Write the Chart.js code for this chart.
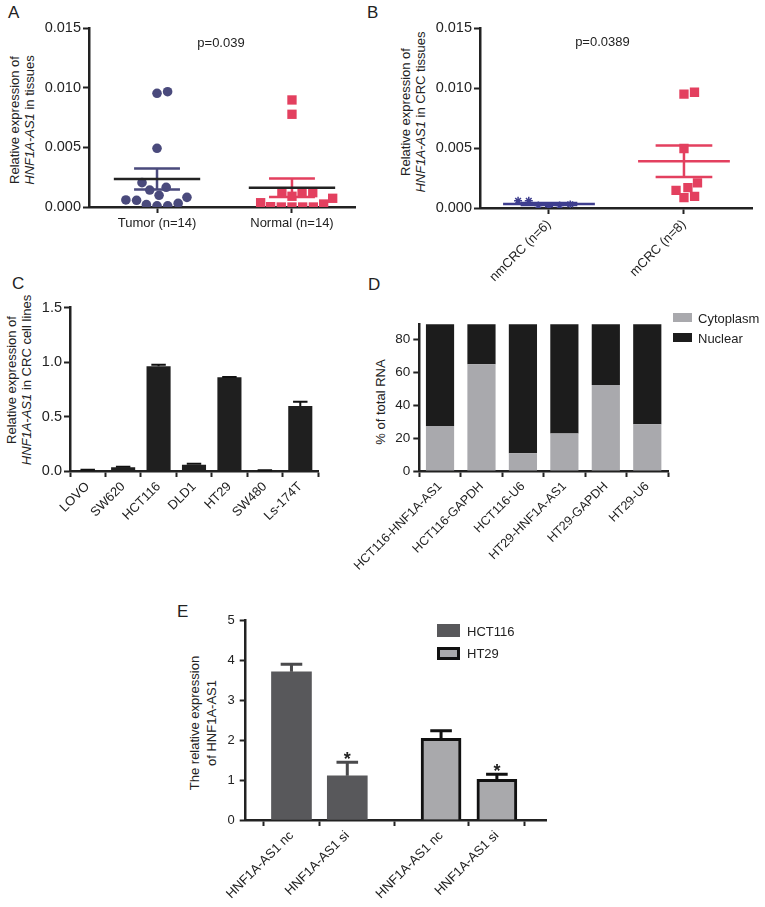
<!DOCTYPE html>
<html>
<head>
<meta charset="utf-8">
<script src="https://cdn.jsdelivr.net/npm/chart.js@4.4.0/dist/chart.umd.min.js"></script>
<style>
  body { margin: 0; background: #fff; width: 765px; height: 907px; position: relative; overflow: hidden;
         font-family: "Liberation Sans", Arial, Helvetica, sans-serif; color: #222; }
  canvas { position: absolute; }
  .letter { position: absolute; font-size: 17px; line-height: 17px; }
  .yt { position: absolute; font-size: 13px; line-height: 15px; text-align: center; white-space: nowrap;
        transform: translate(-50%, -50%) rotate(-90deg); }
  .sw { position: absolute; box-sizing: border-box; }
  .lg { position: absolute; font-size: 13px; line-height: 15px; transform: translateY(-50%); white-space: nowrap; }
</style>
</head>
<body>
<div class="letter" style="left:8px;top:4px">A</div>
<div class="letter" style="left:367px;top:4px">B</div>
<div class="letter" style="left:12px;top:275px">C</div>
<div class="letter" style="left:368px;top:276px">D</div>
<div class="letter" style="left:177px;top:603px">E</div>

<div class="yt" style="left:22px;top:120px">Relative expression of<br><i>HNF1A-AS1</i> in tissues</div>
<div class="yt" style="left:413px;top:112px">Relative expression of<br><i>HNF1A-AS1</i> in CRC tissues</div>
<div class="yt" style="left:19px;top:380px">Relative expression of<br><i>HNF1A-AS1</i> in CRC cell lines</div>
<div class="yt" style="left:380px;top:402px">% of total RNA</div>
<div class="yt" style="left:203px;top:723px;line-height:17px">The relative expression<br>of HNF1A-AS1</div>

<canvas id="cA" width="380" height="260" style="left:0;top:0"></canvas>
<canvas id="cB" width="385" height="300" style="left:380px;top:0"></canvas>
<canvas id="cC" width="380" height="290" style="left:0;top:260px"></canvas>
<canvas id="cD" width="455" height="330" style="left:310px;top:260px"></canvas>
<canvas id="cE" width="440" height="347" style="left:150px;top:560px"></canvas>

<!-- legend D -->
<div class="sw" style="left:673px;top:313px;width:19px;height:9px;background:#a9a9ad"></div>
<div class="lg" style="left:698px;top:318px">Cytoplasm</div>
<div class="sw" style="left:673px;top:333px;width:19px;height:9px;background:#1c1c1c"></div>
<div class="lg" style="left:698px;top:338px">Nuclear</div>
<!-- legend E -->
<div class="sw" style="left:437px;top:624px;width:23px;height:13px;background:#58585b"></div>
<div class="lg" style="left:467px;top:631px">HCT116</div>
<div class="sw" style="left:437px;top:647px;width:23px;height:13px;background:#a9a9ac;border:3px solid #111"></div>
<div class="lg" style="left:467px;top:653px">HT29</div>

<script>
// ---------- data ----------
const groupsA = ['Tumor (n=14)', 'Normal (n=14)'];
const tumorVals = [0.00966, 0.00953, 0.00492, 0.00165, 0.00204, 0.00142, 0.00098,
                   0.00081, 0.00056, 0.00059, 0.0001, 0.0001, 0.0002, 0.0003];
const normalVals = [0.00897, 0.00777, 0.0012, 0.0012, 0.0012, 0.00073, 0.0009,
                    0.00036, 0.00003, 0, 0, 0, 0, 0.00025];
const groupsB = ['nmCRC (n=6)', 'mCRC (n=8)'];
const nmcrcVals = [0.0006, 0.0003, 0.0002, 0.0001, 0.0002, 0.0006];
const mcrcVals = [0.00966, 0.0095, 0.00497, 0.0021, 0.00147, 0.0017, 0.00087, 0.00097];
const ticksAB = [0, 0.005, 0.010, 0.015];

const cellLines = ['LOVO', 'SW620', 'HCT116', 'DLD1', 'HT29', 'SW480', 'Ls-174T'];
const cellExpr = [0.01, 0.035, 0.963, 0.058, 0.86, 0.006, 0.596];
const cellErr = [0.002, 0.003, 0.012, 0.008, 0.003, 0.002, 0.04];

const fracLabels = ['HCT116-HNF1A-AS1', 'HCT116-GAPDH', 'HCT116-U6', 'HT29-HNF1A-AS1', 'HT29-GAPDH', 'HT29-U6'];
const cytoplasm = [27.3, 64.8, 10.7, 22.8, 52.1, 28.3];
const nuclear = [72.7, 35.2, 89.3, 77.2, 47.9, 71.7];

const siLabels = ['HNF1A-AS1 nc', 'HNF1A-AS1 si', 'HNF1A-AS1 nc', 'HNF1A-AS1 si'];
const hct116Expr = [3.72, 1.11];
const hct116Err = [0.19, 0.34];
const ht29Expr = [2.05, 1.02];
const ht29Err = [0.19, 0.13];
const siMarks = ['', '*'];

// ---------- look ----------
const INK = '#222';
const NAVY = '#4a4a7c';
const BLUE = '#3e3e8e';
const PINK = '#e3405f';
const ePos = [0, 1, 2.68, 3.68];   // bar slots on panel E's x axis

Chart.defaults.font.family = '"Liberation Sans", Arial, Helvetica, sans-serif';
Chart.defaults.font.size = 13;
Chart.defaults.color = INK;
Chart.defaults.animation = false;
Chart.defaults.responsive = false;
Chart.defaults.plugins.legend.display = false;
Chart.defaults.plugins.tooltip.enabled = false;

function axis(o) {
  return Object.assign({
    border: { display: true, color: INK, width: 2.5 },
    grid: { drawOnChartArea: false, drawTicks: true, tickLength: 6, tickColor: INK, tickWidth: 2 }
  }, o);
}
const rot45 = s => { s.labelRotation = 45; };

// spreads the points of a column sideways so they don't overlap (dot plot)
const swarm = {
  id: 'swarm',
  afterDatasetsUpdate(chart, args, o) {
    const d = o.gap;
    chart.data.datasets.forEach((ds, i) => {
      const pts = chart.getDatasetMeta(i).data.map(el => ({ el, y: el.y, cx: el.x }))
        .sort((a, b) => b.y - a.y);
      const placed = [];
      pts.forEach(p => {
        const cands = [p.cx];
        placed.forEach(q => {
          const dy = Math.abs(q.y - p.y);
          if (dy < d) {
            const dx = Math.sqrt(d * d - dy * dy);
            cands.push(q.x + dx, q.x - dx);
          }
        });
        cands.sort((a, b) => Math.abs(a - p.cx) - Math.abs(b - p.cx));
        const x = cands.find(c => placed.every(q => Math.hypot(q.x - c, q.y - p.y) >= d - 0.01));
        p.x = x;
        p.el.x = x;
        placed.push(p);
      });
    });
  }
};

// mean line with SEM whiskers
const meanSem = {
  id: 'meanSem',
  afterDatasetsDraw(chart, args, o) {
    const { ctx, scales: { x, y } } = chart;
    chart.data.datasets.forEach(ds => {
      const vals = ds.data.map(p => p.y);
      const n = vals.length;
      const m = vals.reduce((s, v) => s + v, 0) / n;
      const sd = Math.sqrt(vals.reduce((s, v) => s + (v - m) ** 2, 0) / (n - 1));
      const se = sd / Math.sqrt(n);
      const c = ds.data[0].x;
      const yt = y.getPixelForValue(m + se), yb = y.getPixelForValue(m - se), ym = y.getPixelForValue(m);
      ctx.save();
      ctx.lineWidth = o.lineWidth;
      ctx.strokeStyle = ds.semColor;
      ctx.beginPath();
      ctx.moveTo(x.getPixelForValue(c), yt);
      ctx.lineTo(x.getPixelForValue(c), yb);
      [yt, yb].forEach(yy => {
        ctx.moveTo(x.getPixelForValue(c - o.cap), yy);
        ctx.lineTo(x.getPixelForValue(c + o.cap), yy);
      });
      ctx.stroke();
      ctx.strokeStyle = ds.meanColor;
      ctx.beginPath();
      ctx.moveTo(x.getPixelForValue(c - o.half), ym);
      ctx.lineTo(x.getPixelForValue(c + o.half), ym);
      ctx.stroke();
      ctx.restore();
    });
  }
};

// upper error bars (and significance marks) on bars
const errBars = {
  id: 'errBars',
  afterDatasetsDraw(chart, args, o) {
    const { ctx } = chart;
    const y = chart.scales.y;
    chart.data.datasets.forEach((ds, i) => {
      if (!ds.errors) return;
      const meta = chart.getDatasetMeta(i);
      meta.data.forEach((bar, j) => {
        const v = meta.controller.getParsed(j).y;
        const top = y.getPixelForValue(v + ds.errors[j]);
        const hw = bar.width * o.cap / 2;
        ctx.save();
        ctx.strokeStyle = ds.errColor;
        ctx.lineWidth = o.width;
        ctx.beginPath();
        ctx.moveTo(bar.x, bar.y);
        ctx.lineTo(bar.x, top);
        ctx.moveTo(bar.x - hw, top);
        ctx.lineTo(bar.x + hw, top);
        ctx.stroke();
        if (ds.marks && ds.marks[j]) {
          ctx.fillStyle = INK;
          ctx.font = 'bold 18px "Liberation Sans", Arial, sans-serif';
          ctx.textAlign = 'center';
          ctx.textBaseline = 'alphabetic';
          ctx.fillText(ds.marks[j], bar.x, top + 3);
        }
        ctx.restore();
      });
    });
  }
};

// text placed in data space
const note = {
  id: 'note',
  afterDatasetsDraw(chart, args, o) {
    const { ctx, scales: { x, y } } = chart;
    ctx.save();
    ctx.fillStyle = INK;
    ctx.font = '13px "Liberation Sans", Arial, sans-serif';
    ctx.textAlign = 'center';
    ctx.textBaseline = 'middle';
    ctx.fillText(o.text, x.getPixelForValue(o.x), y.getPixelForValue(o.y));
    ctx.restore();
  }
};

function dotPlot(id, groups, sets, pad, yW, xH, xMin, xMax, rotated, ann, semOpts) {
  return new Chart(document.getElementById(id), {
    type: 'scatter',
    data: { datasets: sets },
    options: {
      layout: { padding: { top: pad.top, right: pad.right, left: 0, bottom: 0 } },
      scales: {
        x: axis({
          type: 'linear', min: xMin, max: xMax,
          afterBuildTicks: s => { s.ticks = [{ value: 0 }, { value: 1 }]; },
          afterCalculateLabelRotation: s => { s.labelRotation = rotated ? 45 : 0; },
          ticks: { callback: (v, i) => groups[i], padding: 3, font: { size: 13 } },
          afterFit: s => { s.height = xH; }
        }),
        y: axis({
          min: 0, max: 0.015,
          afterBuildTicks: s => { s.ticks = ticksAB.map(v => ({ value: v })); },
          ticks: { callback: v => v.toFixed(3), padding: 2, font: { size: 14.5 } },
          afterFit: s => { s.width = yW; }
        })
      },
      plugins: { swarm: { gap: 10.7 }, meanSem: semOpts, note: ann }
    },
    plugins: [swarm, meanSem, note]
  });
}

// A
dotPlot('cA', groupsA, [
  { data: tumorVals.map(v => ({ x: 0, y: v })), pointStyle: 'circle', pointRadius: 4.8,
    backgroundColor: NAVY, borderWidth: 0, semColor: NAVY, meanColor: INK },
  { data: normalVals.map(v => ({ x: 1, y: v })), pointStyle: 'rect', pointRadius: 6.6,
    backgroundColor: PINK, borderWidth: 0, semColor: PINK, meanColor: INK }
], { top: 28, right: 25 }, 89, 53, -0.504, 1.467, false,
  { text: 'p=0.039', x: 0.474, y: 0.01374 }, { half: 0.32, cap: 0.17, lineWidth: 2.5 });

// B
dotPlot('cB', groupsB, [
  { data: nmcrcVals.map(v => ({ x: 0, y: v })), pointStyle: 'star', pointRadius: 4,
    backgroundColor: BLUE, borderColor: BLUE, borderWidth: 1.5, semColor: BLUE, meanColor: BLUE },
  { data: mcrcVals.map(v => ({ x: 1, y: v })), pointStyle: 'rect', pointRadius: 6.6,
    backgroundColor: PINK, borderWidth: 0, semColor: PINK, meanColor: PINK }
], { top: 28.3, right: 13 }, 100, 92, -0.511, 1.504, true,
  { text: 'p=0.0389', x: 0.396, y: 0.0138 }, { half: 0.34, cap: 0.21, lineWidth: 2.5 });

// C
new Chart(document.getElementById('cC'), {
  type: 'bar',
  data: {
    labels: cellLines,
    datasets: [{ data: cellExpr, errors: cellErr, errColor: '#111', backgroundColor: '#1f1f1f',
                 categoryPercentage: 1, barPercentage: 0.68 }]
  },
  options: {
    layout: { padding: { top: 47.7, right: 62, left: 0, bottom: 0 } },
    scales: {
      x: axis({
        ticks: { autoSkip: false, padding: 2, font: { size: 13 } },
        afterCalculateLabelRotation: rot45,
        afterFit: s => { s.height = 79; }
      }),
      y: axis({
        min: 0, max: 1.5,
        ticks: { stepSize: 0.5, callback: v => v.toFixed(1), padding: 2, font: { size: 14.5 } },
        afterFit: s => { s.width = 70; }
      })
    },
    plugins: { errBars: { cap: 0.6, width: 2 } }
  },
  plugins: [errBars]
});

// D
new Chart(document.getElementById('cD'), {
  type: 'bar',
  data: {
    labels: fracLabels,
    datasets: [
      { label: 'Cytoplasm', data: cytoplasm, backgroundColor: '#a9a9ad', categoryPercentage: 1, barPercentage: 0.68 },
      { label: 'Nuclear', data: nuclear, backgroundColor: '#1c1c1c', categoryPercentage: 1, barPercentage: 0.68 }
    ]
  },
  options: {
    layout: { padding: { top: 64.3, right: 97, left: 0, bottom: 0 } },
    scales: {
      x: axis({
        stacked: true,
        ticks: { autoSkip: false, padding: 2, font: { size: 12.5 } },
        afterCalculateLabelRotation: rot45,
        afterFit: s => { s.height = 119; }
      }),
      y: axis({
        stacked: true, min: 0, max: 89,
        ticks: { stepSize: 20, includeBounds: false, padding: 3, font: { size: 13.5 } },
        afterFit: s => { s.width = 109.3; }
      })
    }
  }
});

// E
new Chart(document.getElementById('cE'), {
  type: 'bar',
  data: {
    datasets: [
      { label: 'HCT116', data: hct116Expr.map((v, j) => ({ x: ePos[j], y: v })),
        backgroundColor: '#58585b', borderWidth: 0, errors: hct116Err, errColor: '#4a4a4c', marks: siMarks },
      { label: 'HT29', data: ht29Expr.map((v, j) => ({ x: ePos[j + 2], y: v })),
        backgroundColor: '#a9a9ac', borderColor: '#111', borderWidth: 3, errors: ht29Err, errColor: '#111', marks: siMarks }
    ]
  },
  options: {
    datasets: { bar: { grouped: false, barThickness: 40 } },
    layout: { padding: { top: 60.7, right: 44, left: 0, bottom: 0 } },
    scales: {
      x: axis({
        type: 'linear', min: -0.82, max: 4.56, offset: false,
        afterBuildTicks: s => { s.ticks = ePos.map(v => ({ value: v })); },
        afterCalculateLabelRotation: rot45,
        ticks: { callback: (v, i) => siLabels[i], padding: 2 },
        afterFit: s => { s.height = 87; }
      }),
      y: axis({
        min: 0, max: 5,
        ticks: { stepSize: 1, padding: 5, font: { size: 13 } },
        afterFit: s => { s.width = 95.7; }
      })
    },
    plugins: { errBars: { cap: 0.54, width: 3 } }
  },
  plugins: [errBars]
});
</script>
</body>
</html>
